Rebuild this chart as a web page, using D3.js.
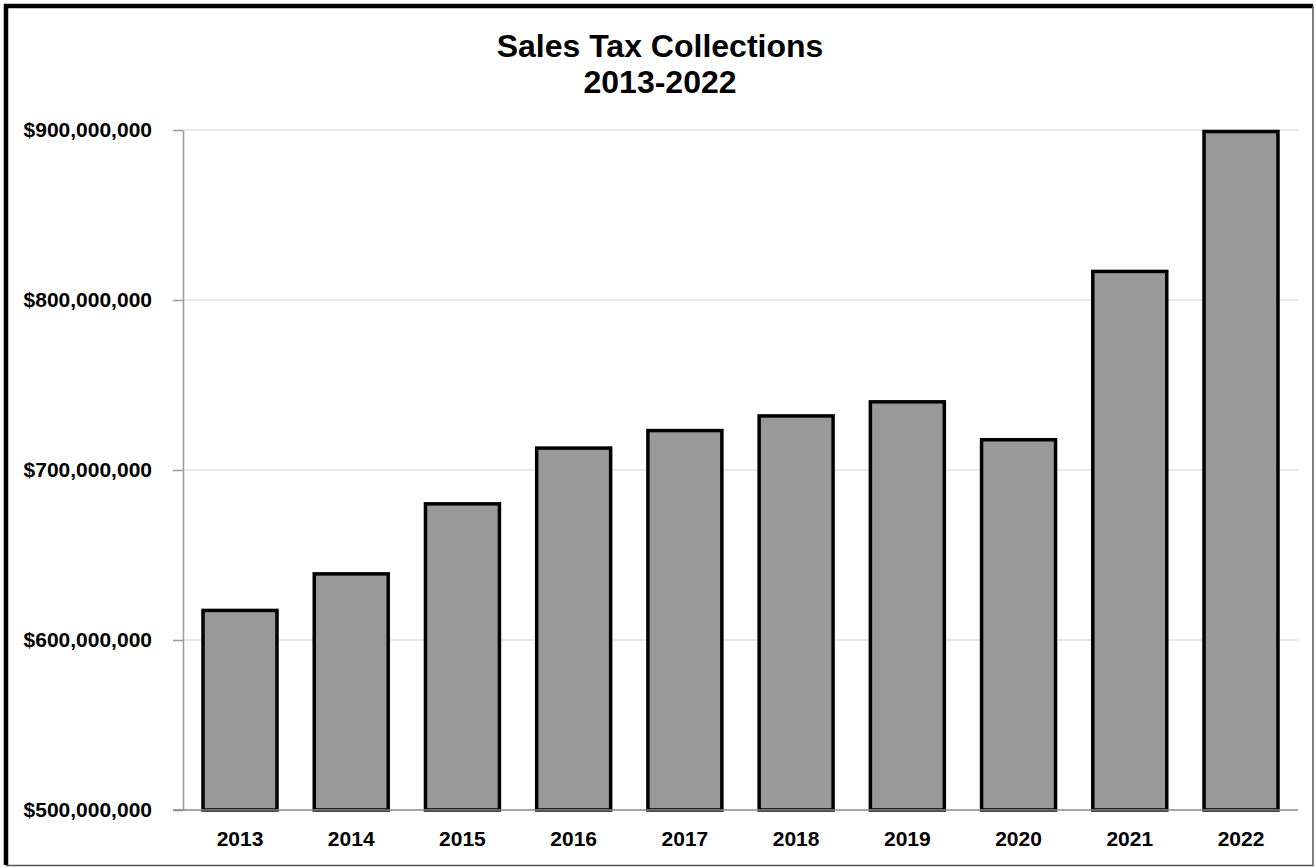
<!DOCTYPE html>
<html>
<head>
<meta charset="utf-8">
<script src="https://cdn.jsdelivr.net/npm/d3@7"></script>
<style>
  html, body { margin: 0; padding: 0; background: #fff; }
  svg { display: block; font-family: "Liberation Sans", Arial, sans-serif; }
</style>
</head>
<body>
<svg id="chart" width="1315" height="867"></svg>
<script>
// Annual sales tax collections, in dollars
const years = ["2013", "2014", "2015", "2016", "2017", "2018", "2019", "2020", "2021", "2022"];
const collections = [617400000, 638900000, 680100000, 712900000, 723200000, 731800000, 740100000, 717800000, 816800000, 899100000];
const yTicks = [500000000, 600000000, 700000000, 800000000, 900000000];
const titleLines = ["Sales Tax Collections", "2013-2022"];

const svg = d3.select("#chart");
const W = 1315, H = 867;
const plot = { left: 183, right: 1298, top: 130, bottom: 810 };

// Frame: heavy black on the top/left, thin grey on the bottom/right
svg.append("path")
  .attr("d", `M6,${H - 2} L6,6 L${W - 2},6`)
  .attr("fill", "none").attr("stroke", "#000").attr("stroke-width", 4.5);
svg.append("path")
  .attr("d", `M${W - 2},6 L${W - 2},${H - 1.5} L6,${H - 1.5}`)
  .attr("fill", "none").attr("stroke", "#555").attr("stroke-width", 1.5);

// Title
const title = svg.append("text")
  .attr("text-anchor", "middle")
  .attr("font-weight", "bold")
  .attr("font-size", 32)
  .attr("fill", "#000");
titleLines.forEach((t, i) => {
  title.append("tspan").attr("x", 660).attr("y", 57 + i * 36).text(t);
});

const x = d3.scaleBand()
  .domain(years)
  .range([plot.left, plot.right])
  .paddingInner(0.335)
  .paddingOuter(0.18);

const y = d3.scaleLinear()
  .domain([500000000, 900000000])
  .range([plot.bottom, plot.top]);

const fmt = v => "$" + d3.format(",")(v);

// Horizontal gridlines
svg.append("g")
  .selectAll("line")
  .data(yTicks.slice(1))
  .join("line")
  .attr("x1", plot.left).attr("x2", plot.right)
  .attr("y1", d => y(d)).attr("y2", d => y(d))
  .attr("stroke", "#e2e2e2").attr("stroke-width", 1.5);

// Y axis
const yAxis = svg.append("g")
  .attr("transform", `translate(${plot.left},0)`)
  .call(d3.axisLeft(y).tickValues(yTicks).tickFormat(fmt).tickSize(10).tickPadding(21).tickSizeOuter(0));
yAxis.select(".domain").attr("stroke", "#9a9a9a").attr("stroke-width", 1.5);
yAxis.selectAll(".tick line").attr("stroke", "#9a9a9a").attr("stroke-width", 1.5);
yAxis.selectAll(".tick text")
  .attr("font-family", "'Liberation Sans', Arial, sans-serif")
  .attr("font-size", 21).attr("font-weight", "bold").attr("fill", "#000");

// Bars
svg.append("g")
  .selectAll("rect")
  .data(years.map((yr, i) => ({ yr, v: collections[i] })))
  .join("rect")
  .attr("x", d => x(d.yr))
  .attr("width", x.bandwidth())
  .attr("y", d => y(d.v))
  .attr("height", d => y.range()[0] - y(d.v))
  .attr("fill", "#999999")
  .attr("stroke", "#000")
  .attr("stroke-width", 3.5);

// Baseline, drawn over the bar bottoms
svg.append("line")
  .attr("x1", plot.left - 10).attr("x2", plot.right)
  .attr("y1", plot.bottom).attr("y2", plot.bottom)
  .attr("stroke", "#8a8a8a").attr("stroke-width", 1.5);

// X axis labels
const xAxis = svg.append("g")
  .attr("transform", `translate(0,${plot.bottom})`)
  .call(d3.axisBottom(x).tickSize(0).tickPadding(21));
xAxis.select(".domain").remove();
xAxis.selectAll(".tick text")
  .attr("font-family", "'Liberation Sans', Arial, sans-serif")
  .attr("font-size", 21).attr("font-weight", "bold").attr("fill", "#000");
</script>
</body>
</html>
